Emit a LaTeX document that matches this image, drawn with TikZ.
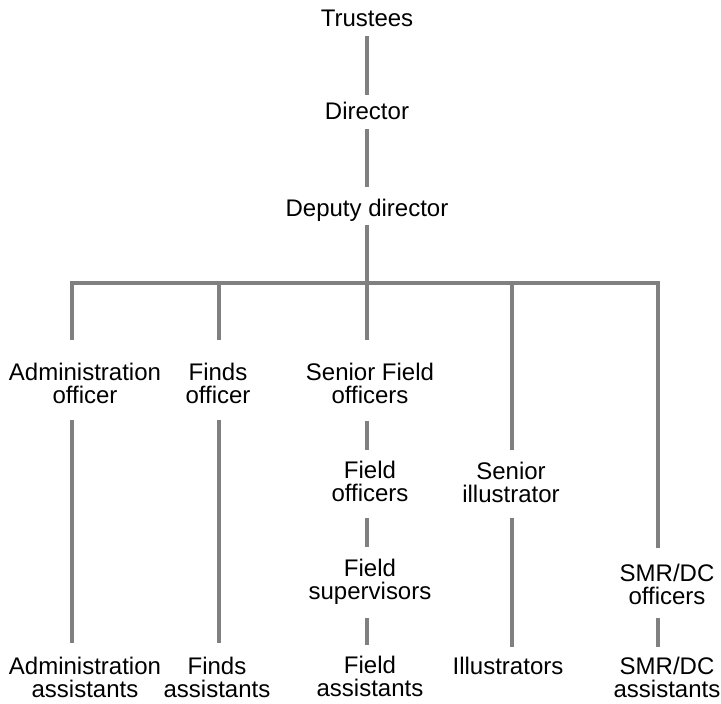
\documentclass[tikz,border=0pt]{standalone}
\usepackage{fontspec}
\setmainfont{Liberation Sans}
\begin{document}
\begin{tikzpicture}[x=1pt,y=-1pt,
  post/.style={anchor=north,align=center,inner sep=0pt,outer sep=0pt,
    font=\fontsize{24}{23}\selectfont},
  link/.style={draw={rgb,255:red,128;green,128;blue,128},line width=4.3pt},
  gaps/.style 2 args={shorten <=#1,shorten >=#2}]
\useasboundingbox (0,0) rectangle (721,704);

% column axes of the chart
\coordinate (colA) at (72,283);
\coordinate (colB) at (219,283);
\coordinate (colC) at (367,283);
\coordinate (colD) at (512,283);
\coordinate (colE) at (658,283);

% posts
\node[post] (trustees)  at (367,9.5)   {Trustees};
\node[post] (director)  at (367,102.5) {Director};
\node[post] (deputy)    at (367,199.5) {Deputy director};

\node[post] (adm)       at (85,363.5)  {Administration\\officer};
\node[post] (finds)     at (218,363.5) {Finds\\officer};
\node[post] (senfield)  at (370,363.5) {Senior Field\\officers};
\node[post] (fieldofc)  at (370,461.5) {Field\\officers};
\node[post] (fieldsup)  at (370,559.5) {Field\\supervisors};
\node[post] (fieldasst) at (370,656.5) {Field\\assistants};
\node[post] (srill)     at (511,462.5) {Senior\\illustrator};
\node[post] (illus)     at (508,657.5) {Illustrators};
\node[post] (smrofc)    at (667,564.5) {SMR/DC\\officers};
\node[post] (smrasst)   at (667,657.5) {SMR/DC\\assistants};
\node[post] (admasst)   at (85,657.5)  {Administration\\assistants};
\node[post] (findsasst) at (217,657.5) {Finds\\assistants};

% top of the hierarchy
\draw[link,gaps={10pt}{8pt}] (trustees.south -| colC) -- (director.north -| colC);
\draw[link,gaps={9pt}{13pt}] (director.south -| colC) -- (deputy.north -| colC);
\draw[link,gaps={3pt}{24pt}] (deputy.south -| colC) -- (senfield.north -| colC);

% horizontal bar with its branches
\draw[link,line join=miter,gaps={24pt}{17pt}]
  (adm.north -| colA) -- (colA) -- (colE) -- (smrofc.north -| colE);
\draw[link,gaps={0pt}{24pt}] (colB) -- (finds.north -| colB);
\draw[link,gaps={0pt}{13pt}] (colD) -- (srill.north -| colD);

% field line
\draw[link,gaps={17pt}{12pt}] (senfield.south -| colC) -- (fieldofc.north -| colC);
\draw[link,gaps={16pt}{13pt}] (fieldofc.south -| colC) -- (fieldsup.north -| colC);
\draw[link,gaps={13pt}{12pt}] (fieldsup.south -| colC) -- (fieldasst.north -| colC);

% other lines
\draw[link,gaps={16pt}{15pt}] (adm.south -| colA) -- (admasst.north -| colA);
\draw[link,gaps={16pt}{15pt}] (finds.south -| colB) -- (findsasst.north -| colB);
\draw[link,gaps={15pt}{11pt}] (srill.south -| colD) -- (illus.north -| colD);
\draw[link,gaps={13pt}{11pt}] (smrofc.south -| colE) -- (smrasst.north -| colE);
\end{tikzpicture}
\end{document}
